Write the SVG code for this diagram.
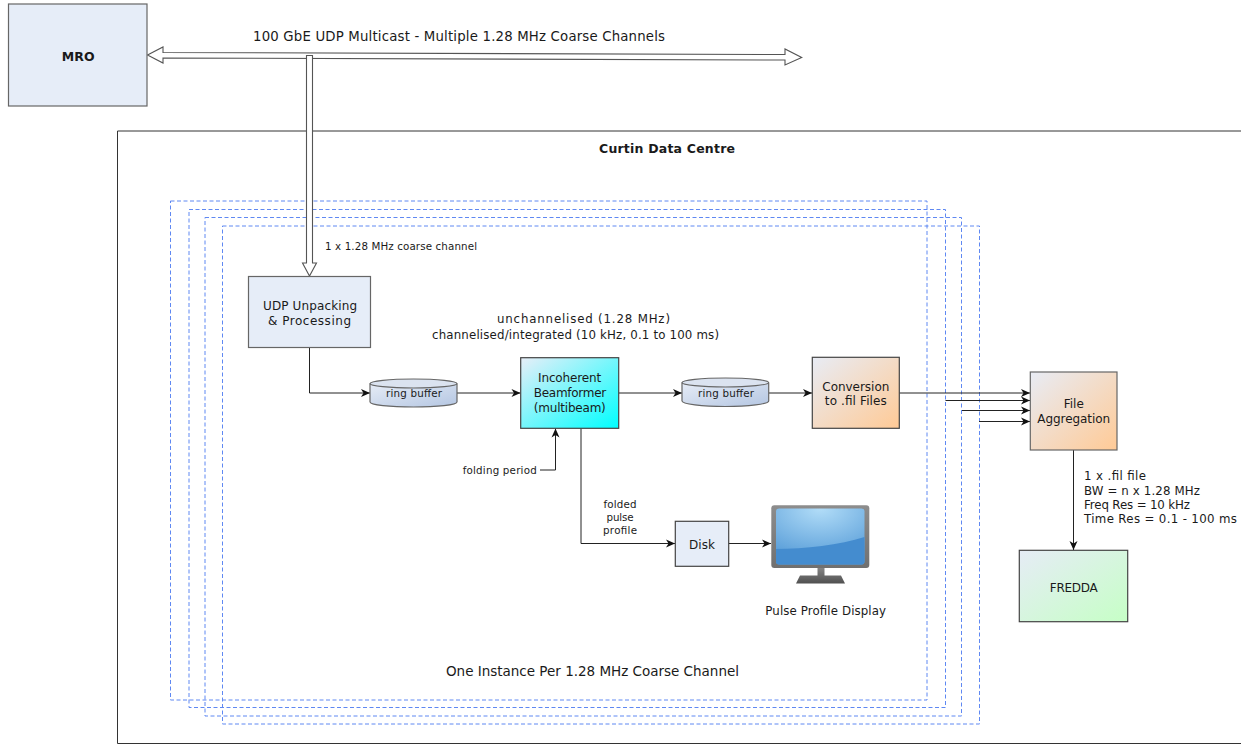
<svg xmlns="http://www.w3.org/2000/svg" width="1241" height="744" viewBox="0 0 1241 744">
<style>
text{font-family:"DejaVu Sans","Liberation Sans",sans-serif;font-size:12px;fill:#1a1a1a;text-anchor:middle}
.l{text-anchor:start}
.s{font-size:10.300px}
.m{font-size:11.800px}
.h{font-weight:700}
.b{stroke:#444;stroke-width:1.2}
.g{stroke:#666;stroke-width:1.2}
.d{fill:none;stroke:#5f88f2;stroke-width:1;stroke-dasharray:4 2.5}
.c{fill:none;stroke:#222;stroke-width:1;marker-end:url(#ah)}
.p{fill:#fff;stroke:#555;stroke-width:1.1;stroke-linejoin:miter}
</style>
<defs>
<marker id="ah" markerUnits="userSpaceOnUse" markerWidth="11" markerHeight="10" refX="10" refY="5" orient="auto"><path d="M1 1 L10 5 L1 9 L3.500 5Z" fill="#111"/></marker>
<linearGradient id="gc" x1="0" y1="0" x2="1" y2="1"><stop offset="0" stop-color="#e8eef8"/><stop offset="1" stop-color="#00ffff"/></linearGradient>
<linearGradient id="go" x1="0" y1="0" x2="1" y2="1"><stop offset="0" stop-color="#e8ecf5"/><stop offset="1" stop-color="#ffca96"/></linearGradient>
<linearGradient id="gg" x1="0" y1="0" x2="1" y2="1"><stop offset="0" stop-color="#e6ecf6"/><stop offset="1" stop-color="#c6ffc6"/></linearGradient>
<linearGradient id="gr" x1="0" y1="0" x2="1" y2="1"><stop offset="0" stop-color="#e6ecf6"/><stop offset="1" stop-color="#b4c6e2"/></linearGradient>
<radialGradient id="gs" cx="0.5" cy="0" r="0.9"><stop offset="0" stop-color="#b2ddf8"/><stop offset="1" stop-color="#5b9fd9"/></radialGradient>
<linearGradient id="gf" x1="0" y1="0" x2="0" y2="1"><stop offset="0" stop-color="#8d8d8d"/><stop offset="1" stop-color="#707070"/></linearGradient>
<linearGradient id="gb" x1="0" y1="0" x2="0" y2="1"><stop offset="0" stop-color="#888"/><stop offset="1" stop-color="#505050"/></linearGradient>
</defs>

<g id="curtin">
<path d="M1241 131H117.500V743.500H1241" fill="none" stroke="#333" stroke-width="1"/>
<text x="667" y="153" class="h" style="font-size:12.500px" textLength="136">Curtin Data Centre</text>
</g>
<g id="instances">
<rect class="d" x="170.500" y="201" width="756.500" height="499"/>
<rect class="d" x="189" y="209.500" width="756.500" height="498"/>
<rect class="d" x="205" y="217.500" width="756.500" height="498.500"/>
<rect class="d" x="222.500" y="226" width="757" height="498"/>
<text x="592.500" y="676" style="font-size:13.500px" textLength="293">One Instance Per 1.28 MHz Coarse Channel</text>
</g>

<g id="connectors">
<polygon class="p" points="147.500,55 163,47 163,52.500 785,54.500 785,49 801.700,57.500 785,65 785,60 163,58 163,63"/>
<polygon class="p" points="306.500,55.500 312.500,55.500 312.500,263 316.500,263 309.500,276 302.500,263 306.500,263"/>
<path class="c" d="M309.500 347.500V393H370"/>
<path class="c" d="M457 393H520.500"/>
<path class="c" d="M618.700 393H682"/>
<path class="c" d="M768.700 393H812"/>
<path class="c" d="M899.300 393H1030"/>
<path class="c" d="M945.500 400.500H1030"/>
<path class="c" d="M962 410.500H1030"/>
<path class="c" d="M979 421.500H1030"/>
<path class="c" d="M540 470H555.500V428.500"/>
<path class="c" d="M581 428.300V543.500H675"/>
<path class="c" d="M728.700 543.500H771"/>
<path class="c" d="M1073.500 450V550"/>
</g>
<g id="labels">
<text x="459" y="41" style="font-size:13.300px" textLength="412">100 GbE UDP Multicast - Multiple 1.28 MHz Coarse Channels</text>
<text x="325" y="250" class="l s" textLength="152">1 x 1.28 MHz coarse channel</text>
<text x="583.500" y="323" class="m" textLength="173">unchannelised (1.28 MHz)</text>
<text x="575.500" y="339" class="m" textLength="287">channelised/integrated (10 kHz, 0.1 to 100 ms)</text>
<text x="499.700" y="474" class="s" textLength="74">folding period</text>
<text x="620" y="508" class="s" textLength="33">folded</text>
<text x="620" y="521" class="s" textLength="27">pulse</text>
<text x="620" y="534" class="s" textLength="34">profile</text>
<text x="1084" y="480" class="l m" textLength="62">1 x .fil file</text>
<text x="1084" y="495" class="l m" textLength="116">BW = n x 1.28 MHz</text>
<text x="1084" y="508.500" class="l m" textLength="106">Freq Res = 10 kHz</text>
<text x="1084" y="523" class="l m" textLength="153">Time Res = 0.1 - 100 ms</text>
</g>

<g id="mro"><rect class="g" x="8.500" y="4" width="138.500" height="102" fill="#e6edf8"/><text x="78.200" y="61" class="h" style="font-size:12.500px" textLength="33">MRO</text></g>
<g id="udp"><rect class="g" x="248.500" y="276.500" width="122" height="71" fill="#e6edf8"/><text x="310" y="309.500" textLength="94">UDP Unpacking</text><text x="309.500" y="324.500" textLength="83">&amp; Processing</text></g>
<g id="ring1"><path class="g" d="M370 384V402C370 405 390 407 413.500 407S457 405 457 402V384Z" fill="url(#gr)"/><ellipse class="g" cx="413.500" cy="383.500" rx="43.500" ry="4.500" fill="#dbe3f0"/><text x="414" y="397" class="s" textLength="56">ring buffer</text></g>
<g id="beamformer"><rect class="b" x="520.700" y="357.700" width="98" height="70.600" fill="url(#gc)"/><text x="569.600" y="382" textLength="63">Incoherent</text><text x="570" y="397" textLength="72.500">Beamformer</text><text x="569.800" y="412" textLength="72">(multibeam)</text></g>
<g id="ring2"><path class="g" d="M682 383V401C682 404 702 406.500 725.300 406.500S768.700 404 768.700 401V383Z" fill="url(#gr)"/><ellipse class="g" cx="725.300" cy="382.500" rx="43.300" ry="4.500" fill="#dbe3f0"/><text x="726" y="396.500" class="s" textLength="56">ring buffer</text></g>
<g id="conversion"><rect class="b" x="812.300" y="357.300" width="87" height="71" fill="url(#go)"/><text x="855.800" y="390.500" textLength="67">Conversion</text><text x="855.800" y="405.300" textLength="62">to .fil Files</text></g>
<g id="aggregation"><rect class="g" x="1030.300" y="372" width="86.700" height="78" fill="url(#go)"/><text x="1073.800" y="408" textLength="20">File</text><text x="1073.700" y="422.700" textLength="72.700">Aggregation</text></g>
<g id="fredda"><rect class="b" x="1019.300" y="550.300" width="108.400" height="71.400" fill="url(#gg)"/><text x="1073.800" y="591.500" textLength="48">FREDDA</text></g>
<g id="disk"><rect class="b" x="675.300" y="521.300" width="53.400" height="45" fill="#e6edf8"/><text x="702" y="549" textLength="26">Disk</text></g>
<g id="display">
<path d="M796 583.500 L800 575.500H817.500V567H824.500V575.500H841L845 583.500Z" fill="url(#gb)"/>
<rect x="771.300" y="505.300" width="98" height="62.700" rx="3" fill="url(#gf)"/>
<rect x="776" y="508.500" width="88.500" height="56" rx="3" fill="url(#gs)"/>
<path d="M776 549 C805 549 840 545 864.500 537 V561.500 Q864.500 564.500 861.500 564.500 H779 Q776 564.500 776 561.500Z" fill="#448ccf"/>
<text x="825.700" y="615" style="font-size:11.800px" textLength="120.700">Pulse Profile Display</text>
</g>
</svg>
